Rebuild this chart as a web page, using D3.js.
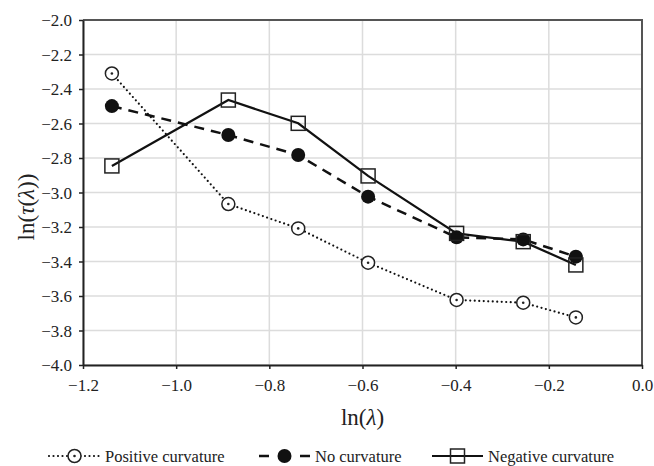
<!DOCTYPE html>
<html>
<head>
<meta charset="utf-8">
<script src="https://cdn.jsdelivr.net/npm/d3@7"></script>
<style>
  body { margin: 0; background: #fff; }
  svg text { font-family: "Liberation Serif", "Times New Roman", serif; fill: #222; }
</style>
</head>
<body>
<script>
var width  = 654;
var height = 466;

// data
var lnLambda  = [ -1.138, -0.888, -0.738, -0.588, -0.398, -0.255, -0.142 ];
var positive  = [ -2.31, -3.067, -3.208, -3.407, -3.623, -3.639, -3.724 ];
var noCurv    = [ -2.499, -2.667, -2.783, -3.024, -3.26, -3.272, -3.372 ];
var negative  = [ -2.846, -2.464, -2.599, -2.904, -3.237, -3.285, -3.42 ];
var xTicks    = [ -1.2, -1.0, -0.8, -0.6, -0.4, -0.2, 0.0 ];
var yTicks    = [ -2.0, -2.2, -2.4, -2.6, -2.8, -3.0, -3.2, -3.4, -3.6, -3.8, -4.0 ];
var seriesNames = [ 'Positive curvature', 'No curvature', 'Negative curvature' ];

var plotL = 83, plotR = 642, plotT = 20, plotB = 365;
var serif = '"Liberation Serif", "Times New Roman", serif';

var x = d3.scaleLinear().domain([-1.2, 0]).range([plotL, plotR]);
var y = d3.scaleLinear().domain([-4, -2]).range([plotB, plotT]);

var fmt = function(v){ return (v < 0 ? '\u2212' : '') + Math.abs(v).toFixed(1); };

var svg = d3.select('body')
            .append('svg')
            .attr('width', width)
            .attr('height', height);

// grid
svg.append('g')
   .selectAll('line')
   .data(yTicks)
   .enter()
   .append('line')
   .attr('x1', plotL).attr('x2', plotR)
   .attr('y1', function(d){ return y(d); })
   .attr('y2', function(d){ return y(d); })
   .attr('stroke', '#dcdcdc')
   .attr('stroke-width', 1.5);

svg.append('g')
   .selectAll('line')
   .data(xTicks)
   .enter()
   .append('line')
   .attr('y1', plotT).attr('y2', plotB)
   .attr('x1', function(d){ return x(d); })
   .attr('x2', function(d){ return x(d); })
   .attr('stroke', '#dcdcdc')
   .attr('stroke-width', 1.5);

// frame top / right
svg.append('path')
   .attr('d', 'M' + plotL + ',' + plotT + 'H' + plotR + 'V' + plotB)
   .attr('fill', 'none')
   .attr('stroke', '#555')
   .attr('stroke-width', 2);

// axes
var xAxis = svg.append('g')
   .attr('transform', 'translate(0,' + plotB + ')')
   .call(d3.axisBottom(x).tickValues(xTicks).tickFormat(fmt).tickSize(4).tickSizeOuter(0));
var yAxis = svg.append('g')
   .attr('transform', 'translate(' + plotL + ',0)')
   .call(d3.axisLeft(y).tickValues(yTicks).tickFormat(fmt).tickSize(4).tickSizeOuter(0));

[xAxis, yAxis].forEach(function(a){
  a.attr('font-family', null).attr('font-size', null);
  a.select('.domain').attr('stroke', '#222').attr('stroke-width', 2);
  a.selectAll('.tick line').attr('stroke', '#222').attr('stroke-width', 1.5);
  a.selectAll('.tick text')
   .style('font-family', serif)
   .style('font-size', '17px')
   .attr('fill', '#222');
});
xAxis.selectAll('.tick text').attr('y', 26).attr('dy', 0);
yAxis.selectAll('.tick text').attr('x', -11).attr('dy', '0.33em');

// axis titles
svg.append('text')
   .attr('x', (plotL + plotR) / 2)
   .attr('y', 425)
   .attr('text-anchor', 'middle')
   .style('font-size', '23px')
   .html('ln(<tspan font-style="italic">\u03bb</tspan>)');

svg.append('text')
   .attr('transform', 'translate(34,207) rotate(-90)')
   .attr('text-anchor', 'middle')
   .style('font-size', '23px')
   .html('ln(<tspan font-style="italic">\u03c4</tspan>(<tspan font-style="italic">\u03bb</tspan>))');

// series
var series = [
  { name: seriesNames[0], values: positive, dash: '0 4.5', cap: 'round', width: 2.2, marker: 'circleDot' },
  { name: seriesNames[1], values: noCurv,   dash: '10 7',  cap: 'butt',  width: 2.5, marker: 'filled' },
  { name: seriesNames[2], values: negative, dash: null,    cap: 'butt',  width: 2.2, marker: 'square' }
];

var line = d3.line()
             .x(function(d){ return x(d[0]); })
             .y(function(d){ return y(d[1]); });

function drawMarker(g, cx, cy, type) {
  if (type === 'square') {
    g.append('rect')
     .attr('x', cx - 7).attr('y', cy - 7)
     .attr('width', 14).attr('height', 14)
     .attr('fill', 'none')
     .attr('stroke', '#222').attr('stroke-width', 1.5);
  } else if (type === 'filled') {
    g.append('circle')
     .attr('cx', cx).attr('cy', cy).attr('r', 7)
     .attr('fill', '#111');
  } else {
    g.append('circle')
     .attr('cx', cx).attr('cy', cy).attr('r', 6.5)
     .attr('fill', '#fff')
     .attr('stroke', '#222').attr('stroke-width', 1.5);
    g.append('circle')
     .attr('cx', cx).attr('cy', cy).attr('r', 1.3)
     .attr('fill', '#222');
  }
}

series.forEach(function(s){
  var pts = d3.zip(lnLambda, s.values);
  var g = svg.append('g');
  g.append('path')
   .attr('d', line(pts))
   .attr('fill', 'none')
   .attr('stroke', '#111')
   .attr('stroke-width', s.width)
   .attr('stroke-linecap', s.cap)
   .attr('stroke-dasharray', s.dash);
  pts.forEach(function(p){ drawMarker(g, x(p[0]), y(p[1]), s.marker); });
});

// legend
var legendX = [ 49, 259, 432 ];
var legendY = 456;
series.forEach(function(s, i){
  var g = svg.append('g');
  var x0 = legendX[i], x1 = x0 + 51;
  g.append('line')
   .attr('x1', x0).attr('x2', x1)
   .attr('y1', legendY).attr('y2', legendY)
   .attr('stroke', '#111')
   .attr('stroke-width', s.width)
   .attr('stroke-linecap', s.cap)
   .attr('stroke-dasharray', s.dash);
  if (s.marker === 'filled') {
    g.select('line').attr('stroke-dasharray', '10 31');
  }
  drawMarker(g, (x0 + x1) / 2, legendY, s.marker);
  g.append('text')
   .attr('x', x1 + 5)
   .attr('y', legendY + 5.5)
   .style('font-size', '16.5px')
   .text(s.name);
});
</script>
</body>
</html>
